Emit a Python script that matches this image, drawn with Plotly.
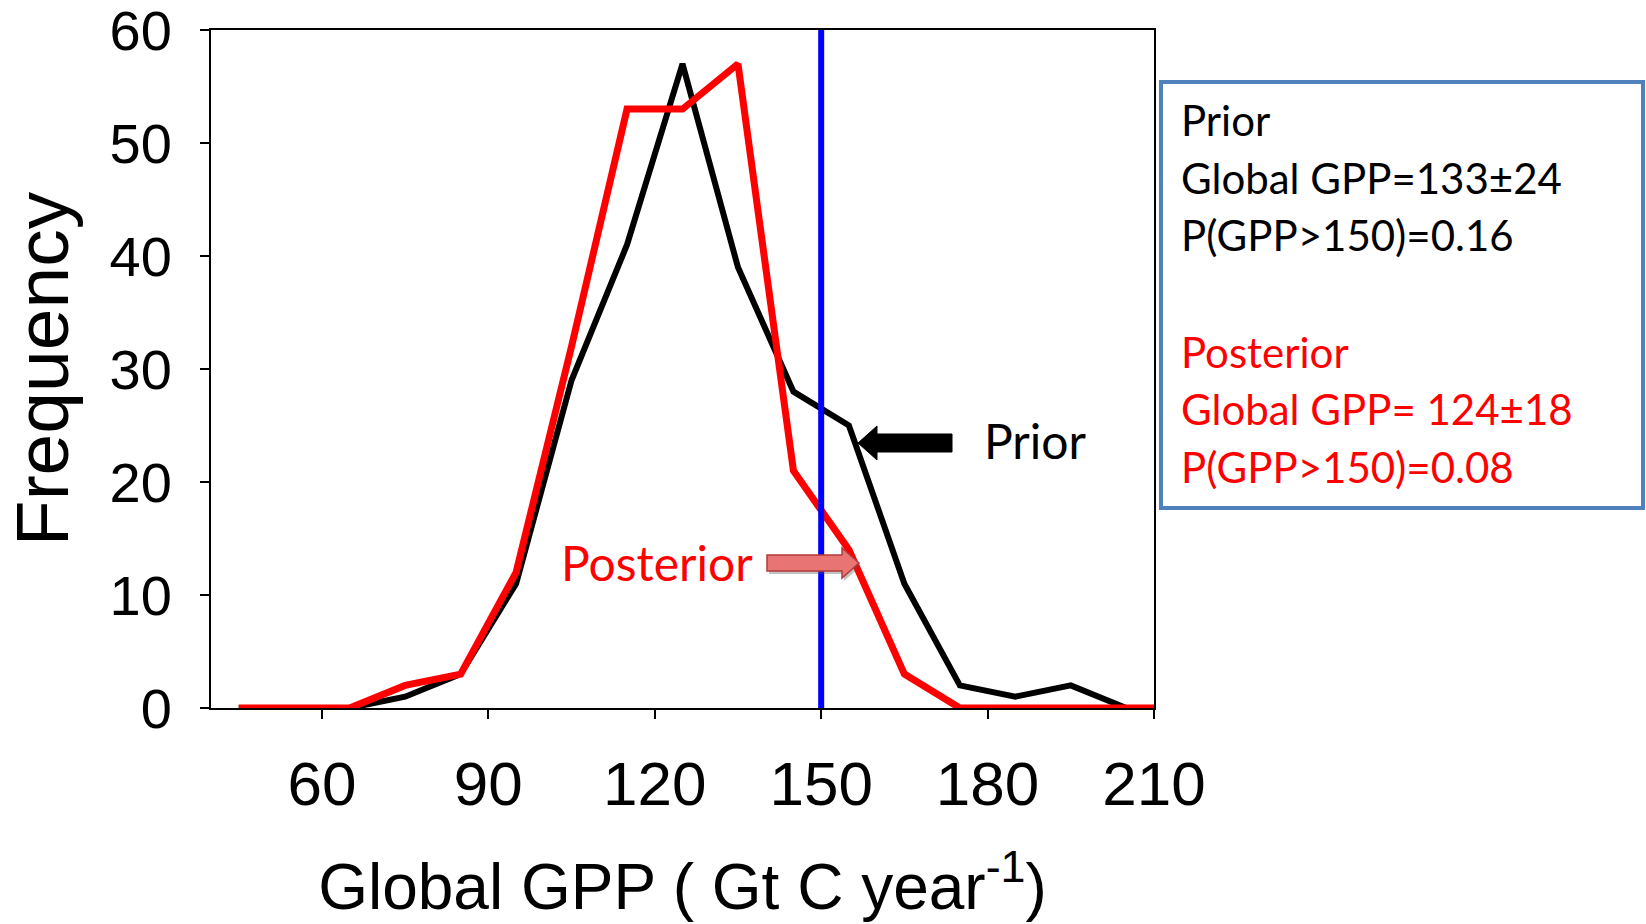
import plotly.graph_objects as go

# ---- data ----
bins = [45, 55, 65, 75, 85, 95, 105, 115, 125, 135, 145, 155, 165, 175, 185, 195, 205]
prior_freq = [0, 0, 0, 1, 3, 11, 29, 41, 57, 39, 28, 25, 11, 2, 1, 2, 0]
posterior_bins = bins + [210]
posterior_freq = [0, 0, 0, 2, 3, 12, 32, 53, 53, 57, 21, 14, 3, 0, 0, 0, 0, 0]
threshold = 150
x_ticks = [60, 90, 120, 150, 180, 210]
y_ticks = [0, 10, 20, 30, 40, 50, 60]

box_lines_prior = ["Prior", "Global GPP=133±24", "P(GPP>150)=0.16"]
box_lines_post = ["Posterior", "Global GPP= 124±18", "P(GPP>150)=0.08"]

# ---- geometry (pixels in the 1646x924 page) ----
W, H = 1646, 924
L, R, T, B = 211, 1154, 30, 708


def px(x):
    return (x - L) / (R - L)


def py(y):
    return (B - y) / (B - T)


AX_FONT = "Liberation Sans, Arial, sans-serif"
TXT_FONT = "Lato, Carlito, Calibri, sans-serif"

fig = go.Figure()
fig.add_trace(go.Scatter(x=bins, y=prior_freq, mode="lines",
                         line=dict(color="black", width=6), name="Prior",
                         showlegend=False))
fig.add_trace(go.Scatter(x=posterior_bins, y=posterior_freq, mode="lines",
                         line=dict(color="#FF0000", width=7), name="Posterior",
                         showlegend=False))

shapes = []
# threshold line
shapes.append(dict(type="line", xref="x", yref="paper", x0=threshold, x1=threshold,
                   y0=0, y1=1, line=dict(color="#0000FF", width=6), layer="above"))

# black block arrow (pointing left) for "Prior"
tip_x, cy = 858, 443
pts = [(tip_x, cy), (tip_x + 19, cy - 17), (tip_x + 19, cy - 9), (952, cy - 9),
       (952, cy + 9), (tip_x + 19, cy + 9), (tip_x + 19, cy + 17)]
path = "M " + " L ".join(f"{px(a):.5f},{py(b):.5f}" for a, b in pts) + " Z"
shapes.append(dict(type="path", xref="paper", yref="paper", path=path,
                   fillcolor="black", line=dict(color="black", width=1), layer="above"))

# red block arrow (pointing right) for "Posterior"
tail_x, tip2, cy2 = 767, 859, 563


def red_arrow(dx=0, dy=0):
    p = [(tail_x + dx, cy2 - 8 + dy), (tip2 - 17 + dx, cy2 - 8 + dy), (tip2 - 17 + dx, cy2 - 15 + dy),
         (tip2 + dx, cy2 + dy), (tip2 - 17 + dx, cy2 + 15 + dy), (tip2 - 17 + dx, cy2 + 8 + dy),
         (tail_x + dx, cy2 + 8 + dy)]
    return "M " + " L ".join(f"{px(a):.5f},{py(b):.5f}" for a, b in p) + " Z"


shapes.append(dict(type="path", xref="paper", yref="paper", path=red_arrow(2, 3),
                   fillcolor="rgba(80,80,80,0.35)", line=dict(width=0), layer="above"))
shapes.append(dict(type="path", xref="paper", yref="paper", path=red_arrow(),
                   fillcolor="#E87474", line=dict(color="#B23A3A", width=1.5), layer="above"))

# info box
shapes.append(dict(type="rect", xref="paper", yref="paper",
                   x0=px(1161), x1=px(1643), y0=py(508), y1=py(82),
                   line=dict(color="#4F81BD", width=4), fillcolor="rgba(0,0,0,0)"))

annotations = []
line_centers_prior = [120, 178, 235]
line_centers_post = [351, 408, 466]
for txt, yc in zip(box_lines_prior, line_centers_prior):
    annotations.append(dict(xref="paper", yref="paper", x=px(1179), y=py(yc), text=txt,
                            showarrow=False, xanchor="left", yanchor="middle",
                            font=dict(family=TXT_FONT, size=42, color="black")))
for txt, yc in zip(box_lines_post, line_centers_post):
    annotations.append(dict(xref="paper", yref="paper", x=px(1179), y=py(yc + 1), text=txt,
                            showarrow=False, xanchor="left", yanchor="middle",
                            font=dict(family=TXT_FONT, size=42, color="#FF0000")))

annotations.append(dict(xref="paper", yref="paper", x=px(982), y=py(441), text="Prior",
                        showarrow=False, xanchor="left", yanchor="middle",
                        font=dict(family=TXT_FONT, size=48, color="black")))
annotations.append(dict(xref="paper", yref="paper", x=px(559), y=py(562), text="Posterior",
                        showarrow=False, xanchor="left", yanchor="middle",
                        font=dict(family=TXT_FONT, size=48, color="#FF0000")))

fig.update_layout(
    width=W, height=H,
    margin=dict(l=L, r=W - R, t=T, b=H - B, pad=0, autoexpand=False),
    paper_bgcolor="white", plot_bgcolor="white",
    shapes=shapes, annotations=annotations,
    xaxis=dict(range=[40, 210], tickvals=x_ticks, ticks="outside", ticklen=9, tickwidth=2,
               tickcolor="black", showline=True, linecolor="black", linewidth=2, mirror=True,
               showgrid=False, zeroline=False, ticklabelstandoff=12, ticklabeloverflow="allow",
               automargin=False,
               tickfont=dict(family=AX_FONT, size=62, color="black"),
               title=dict(text="Global GPP ( Gt C year<sup>-1</sup>)", standoff=47,
                          font=dict(family=AX_FONT, size=64, color="black"))),
    yaxis=dict(range=[0, 60], tickvals=y_ticks, ticks="outside", ticklen=9, tickwidth=2,
               tickcolor="black", showline=True, linecolor="black", linewidth=2, mirror=True,
               showgrid=False, zeroline=False, ticklabelstandoff=17, ticklabeloverflow="allow",
               automargin=False,
               tickfont=dict(family=AX_FONT, size=56, color="black"),
               title=dict(text="Frequency", standoff=45,
                          font=dict(family=AX_FONT, size=75, color="black"))),
)

fig.write_html("out.html")
